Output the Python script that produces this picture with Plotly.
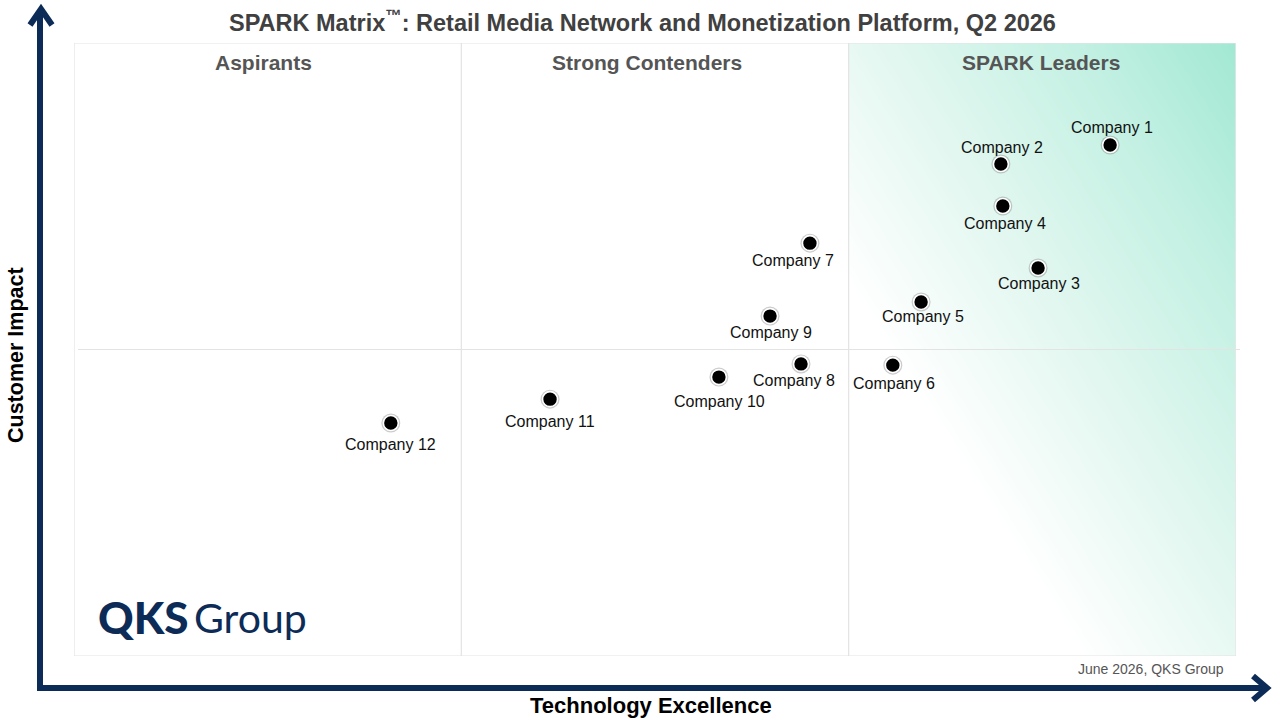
import numpy as np
import plotly.graph_objects as go

# vendor positions (x: Technology Excellence 0-3, y: Customer Impact 0-2)
companies = ["Company 1", "Company 2", "Company 3", "Company 4", "Company 5", "Company 6",
             "Company 7", "Company 8", "Company 9", "Company 10", "Company 11", "Company 12"]
tech_excellence = [2.675, 2.393, 2.489, 2.398, 2.187, 2.114, 1.900, 1.877, 1.797, 1.665, 1.229, 0.818]
customer_impact = [1.667, 1.605, 1.266, 1.468, 1.155, 0.949, 1.347, 0.953, 1.109, 0.910, 0.838, 0.760]

quadrants = ["Aspirants", "Strong Contenders", "SPARK Leaders"]

TITLE = "SPARK Matrix<sup>™</sup>: Retail Media Network and Monetization Platform, Q2 2026"
X_TITLE = "Technology Excellence"
Y_TITLE = "Customer Impact"
FOOTER = "June 2026, QKS Group"

# label offsets in px (xshift, yshift) -- styling only
LABEL_SHIFT = {
    "Company 1": (2, 18), "Company 2": (1, 17), "Company 3": (1, -16),
    "Company 4": (2, -17), "Company 5": (2, -15), "Company 6": (1, -18),
    "Company 7": (-17, -17), "Company 8": (-7, -17), "Company 9": (1, -16),
    "Company 10": (1, -24), "Company 11": (0, -22), "Company 12": (0, -21),
}
QUADRANT_SHIFT = [-4, -8, -1]

W, H = 1280, 720
L, R, T, B = 74, 44, 43, 64
NAVY = "#0d2b57"
GRID = "#e3e3e3"
FONT = "Liberation Sans, Arial"


def px(x):
    return (x - L) / (W - L - R)


def py(y):
    return (H - B - y) / (H - T - B)


def note(x, y, text, size, color, family=FONT, **kw):
    kw.setdefault("xref", "paper")
    kw.setdefault("xanchor", "center")
    fig.add_annotation(x=x, y=py(y), yref="paper", yanchor="middle", text=text, showarrow=False,
                       font=dict(family=family, size=size, color=color, weight=kw.pop("weight", None)), **kw)


fig = go.Figure()

# leaders gradient (white bottom-left -> mint top-right)
n = 120
gx = np.linspace(2 + 0.5 / n, 3 - 0.5 / n, n)
gy = np.linspace(0 + 1.0 / n, 2 - 1.0 / n, n)
u = (gx - 2)[None, :]
v = (gy / 2)[:, None]
gz = (u + v) / 2
fig.add_trace(go.Heatmap(
    x=gx, y=gy, z=gz, zmin=0, zmax=1, zsmooth="best", showscale=False, hoverinfo="skip",
    colorscale=[[0, "#ffffff"], [0.3, "#ffffff"], [0.55, "#e2f7f0"], [0.8, "#c2f0e2"], [1, "#a2e8d3"]],
))

# dots: soft shadow + black dot with white rim
fig.add_trace(go.Scatter(
    x=tech_excellence, y=customer_impact, mode="markers", hoverinfo="skip",
    marker=dict(size=19, color="rgba(110,110,110,0.35)", line=dict(width=0)),
    showlegend=False,
))
fig.add_trace(go.Scatter(
    x=tech_excellence, y=customer_impact, mode="markers", text=companies, hoverinfo="text",
    marker=dict(size=15, color="#000000", line=dict(width=1.6, color="#ffffff")),
    showlegend=False,
))

for name, x, y in zip(companies, tech_excellence, customer_impact):
    dx, dy = LABEL_SHIFT[name]
    fig.add_annotation(x=x, y=y, text=name, showarrow=False, xshift=dx, yshift=dy,
                       xanchor="center", yanchor="middle",
                       font=dict(family=FONT, size=16, color="#111111"))

# quadrant dividers and box
shapes = [
    dict(type="rect", xref="x", yref="y", x0=0, x1=3, y0=0, y1=2, line=dict(color=GRID, width=1.2)),
    dict(type="line", xref="x", yref="y", x0=1, x1=1, y0=0, y1=2, line=dict(color=GRID, width=1.2)),
    dict(type="line", xref="x", yref="y", x0=2, x1=2, y0=0, y1=2, line=dict(color=GRID, width=1.2)),
    dict(type="line", xref="paper", yref="y", x0=px(78), x1=px(1240), y0=1, y1=1,
         line=dict(color=GRID, width=1.2)),
]

# axis arrows
arrow = dict(color=NAVY, width=6)
shapes += [
    dict(type="line", xref="paper", yref="paper", x0=px(40), x1=px(40), y0=py(691), y1=py(10), line=arrow),
    dict(type="path", xref="paper", yref="paper",
         path=f"M {px(30)},{py(25)} L {px(41)},{py(9)} L {px(52)},{py(25)}", line=arrow),
    dict(type="line", xref="paper", yref="paper", x0=px(37), x1=px(1265), y0=py(688), y1=py(688), line=arrow),
    dict(type="path", xref="paper", yref="paper",
         path=f"M {px(1253)},{py(676)} L {px(1267)},{py(688)} L {px(1253)},{py(700)}", line=arrow),
]

for i, q in enumerate(quadrants):
    note(i + 0.5, 62, f"<b>{q}</b>", 21, "#555555", xref="x", xshift=QUADRANT_SHIFT[i])

note(px(642), 21, f"<b>{TITLE}</b>", 23.5, "#404040")
note(px(651), 705, f"<b>{X_TITLE}</b>", 22, "#000000")
note(px(16), 355, f"<b>{Y_TITLE}</b>", 21.5, "#000000", textangle=-90)
note(px(1226), 669, FOOTER, 14, "#555555", xanchor="right")

# logo
note(px(96), 617, "QKS", 44, NAVY, family="Lato", xanchor="left", weight=900)
note(px(192), 617, "Group", 41, NAVY, family="Lato", xanchor="left", weight=400)

fig.update_layout(
    width=W, height=H,
    margin=dict(l=L, r=R, t=T, b=B, autoexpand=False),
    paper_bgcolor="white", plot_bgcolor="white",
    shapes=shapes,
    xaxis=dict(range=[0, 3], visible=False, fixedrange=True),
    yaxis=dict(range=[0, 2], visible=False, fixedrange=True),
    showlegend=False,
)

fig.write_html("out.html", config={"displayModeBar": False},
               post_script="document.body.style.margin='0';")
